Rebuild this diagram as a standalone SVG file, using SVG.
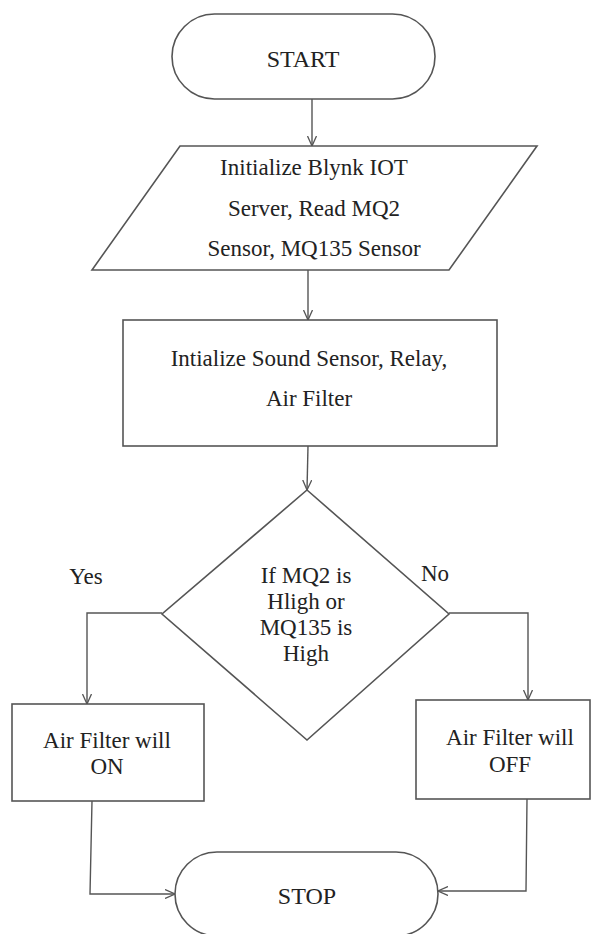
<svg xmlns="http://www.w3.org/2000/svg" width="603" height="934" viewBox="0 0 603 934">
<defs>
<style>
.shape{fill:#fff;stroke:#555;stroke-width:1.6}
.t{font-family:'Liberation Serif','Times New Roman',serif;font-size:23px;fill:#222;text-anchor:middle}
.big{font-size:24px}
.conn{fill:none;stroke:#555;stroke-width:1.4}
</style>
<marker id="arr" viewBox="0 0 10 10" refX="10" refY="5" markerWidth="10" markerHeight="10" markerUnits="userSpaceOnUse" orient="auto">
<path d="M0,0.5 L10,5 L0,9.5" fill="none" stroke="#555" stroke-width="1.3"/>
</marker>
</defs>
<rect width="603" height="934" fill="#fff"/>
<g id="connectors">
<path class="conn" d="M312,99 L312,146" marker-end="url(#arr)"/>
<path class="conn" d="M308,270 L308,320" marker-end="url(#arr)"/>
<path class="conn" d="M308,446 L307,490" marker-end="url(#arr)"/>
<path class="conn" d="M162,613 L87,613 L87,704" marker-end="url(#arr)"/>
<path class="conn" d="M449,613 L528,613 L528,700" marker-end="url(#arr)"/>
<path class="conn" d="M92,801 L90,894 L175,894" marker-end="url(#arr)"/>
<path class="conn" d="M527,799 L526,891 L438,891" marker-end="url(#arr)"/>
</g>
<g id="start">
<rect class="shape" x="172" y="14" width="263" height="85" rx="42.5" ry="42.5"/>
<text class="t big" x="303" y="67">START</text>
</g>
<g id="init-blynk">
<polygon class="shape" points="180,146 537,146 449,270 92,270"/>
<text class="t" x="314" y="175">Initialize Blynk IOT</text>
<text class="t" x="314" y="216">Server, Read MQ2</text>
<text class="t" x="314" y="256">Sensor, MQ135 Sensor</text>
</g>
<g id="init-sound">
<rect class="shape" x="123" y="320" width="374" height="126"/>
<text class="t" x="309" y="366">Intialize Sound Sensor, Relay,</text>
<text class="t" x="309" y="406">Air Filter</text>
</g>
<g id="decision">
<polygon class="shape" points="307,490 449,614 307,740 162,614"/>
<text class="t" x="306" y="583">If MQ2 is</text>
<text class="t" x="306" y="609">Hligh or</text>
<text class="t" x="306" y="635">MQ135 is</text>
<text class="t" x="306" y="661">High</text>
</g>
<g id="label-yes">
<text class="t" x="86" y="584">Yes</text>
</g>
<g id="label-no">
<text class="t" x="435" y="581">No</text>
</g>
<g id="filter-on">
<rect class="shape" x="12" y="704" width="192" height="97"/>
<text class="t" x="107" y="748">Air Filter will</text>
<text class="t" x="107" y="774">ON</text>
</g>
<g id="filter-off">
<rect class="shape" x="416" y="700" width="174" height="99"/>
<text class="t" x="510" y="745">Air Filter will</text>
<text class="t" x="510" y="772">OFF</text>
</g>
<g id="stop">
<rect class="shape" x="175" y="852" width="263" height="84" rx="42" ry="42"/>
<text class="t big" x="307" y="904">STOP</text>
</g>
</svg>
